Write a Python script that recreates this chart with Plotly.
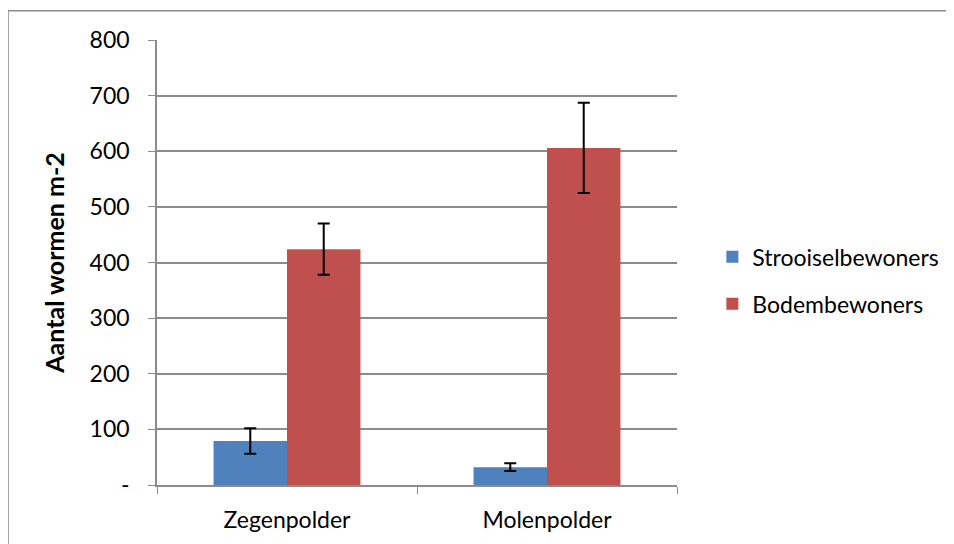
import plotly.graph_objects as go

polders = ["Zegenpolder", "Molenpolder"]
strooisel = [79, 32]
strooisel_err = [23, 7]
bodem = [424, 606]
bodem_err = [46, 81]

y_ticks = [0, 100, 200, 300, 400, 500, 600, 700, 800]
y_labels = ["-", "100", "200", "300", "400", "500", "600", "700", "800"]

fig = go.Figure()
fig.add_trace(go.Bar(
    x=polders, y=strooisel, name="Strooiselbewoners", legendgroup="a",
    marker=dict(color="#4F81BD", line=dict(width=0)),
    error_y=dict(type="data", array=strooisel_err, color="black", thickness=2, width=6)))
fig.add_trace(go.Bar(
    x=polders, y=bodem, name="Bodembewoners", legendgroup="b",
    marker=dict(color="#C0504D", line=dict(width=0)),
    error_y=dict(type="data", array=bodem_err, color="black", thickness=2, width=6)))

fig.update_layout(
    width=946, height=536,
    margin=dict(l=149, r=277, t=32, b=59, autoexpand=False),
    paper_bgcolor="white", plot_bgcolor="white",
    font=dict(family="Lato, Open Sans, sans-serif", size=23, color="black"),
    barmode="group", bargap=0.435, bargroupgap=0,
    legend=dict(x=1.068, y=0.46, yanchor="middle", xanchor="left",
                traceorder="grouped", tracegroupgap=14,
                font=dict(size=23)),
    shapes=[dict(type="rect", xref="paper", yref="paper",
                 x0=-0.2865, x1=1.7, y0=-0.3, y1=1.066,
                 line=dict(color="#8c8c8c", width=1.5), layer="below")],
)
fig.update_xaxes(showline=True, linecolor="#8c8c8c", linewidth=1.5,
                 ticks="outside", tickson="boundaries", ticklen=7,
                 tickcolor="#8c8c8c", showgrid=False, ticklabelstandoff=14)
fig.update_yaxes(range=[0, 800], tickvals=y_ticks, ticktext=y_labels,
                 showline=True, linecolor="#8c8c8c", linewidth=1.5,
                 ticks="outside", ticklen=7, tickcolor="#8c8c8c",
                 showgrid=True, gridcolor="#8c8c8c", gridwidth=1.5,
                 ticklabelstandoff=14, zeroline=False,
                 title=dict(text="<b>Aantal wormen m-2</b>", standoff=18, font=dict(size=25)))

fig.write_html("out.html")
